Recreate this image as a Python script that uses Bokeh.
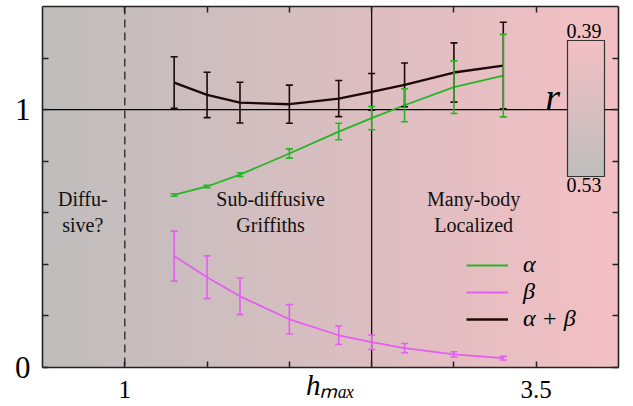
import numpy as np
from bokeh.plotting import figure
from bokeh.models import (LinearAxis, FixedTicker, Span, Whisker, TeeHead, ColumnDataSource,
                          LinearColorMapper, ColorBar, Label, Legend, LegendItem, Range1d)
from bokeh.embed import file_html
from bokeh.resources import INLINE

# ---- data ----
h = [1.3, 1.5, 1.7, 2.0, 2.3, 2.5, 2.7, 3.0, 3.3]
alpha = [0.669, 0.702, 0.748, 0.830, 0.915, 0.967, 1.017, 1.087, 1.132]
alpha_err = [0.005, 0.005, 0.007, 0.018, 0.032, 0.045, 0.064, 0.102, 0.160]
beta = [0.432, 0.350, 0.276, 0.187, 0.125, 0.098, 0.075, 0.051, 0.036]
beta_err = [0.097, 0.083, 0.071, 0.057, 0.036, 0.028, 0.018, 0.010, 0.007]
ab = [1.105, 1.057, 1.027, 1.021, 1.043, 1.069, 1.096, 1.144, 1.171]
ab_err = [0.100, 0.088, 0.079, 0.074, 0.070, 0.071, 0.085, 0.115, 0.168]

x_ticks = [1.0, 1.5, 2.0, 2.5, 3.0, 3.5]
x_tick_labels = {1.0: "1", 3.5: "3.5"}
y_ticks = [0.0, 0.2, 0.4, 0.6, 0.8, 1.0, 1.2]
y_tick_labels = {0.0: "0", 1.0: "1"}
r_range = [0.53, 0.39]          # r at left (ergodic) and right (localized)
h_transition = [1.0, 2.5]       # dashed and solid vertical lines

SERIF = "Liberation Serif"
GREEN = "#26b526"
MAGENTA = "#e45ef2"
DARK = "#1e0808"

p = figure(width=626, height=406, output_backend="svg", toolbar_location=None,
           x_range=Range1d(0.5, 4.0), y_range=Range1d(0, 1.4),
           min_border_left=42, min_border_right=8, min_border_top=6, min_border_bottom=39)
p.xaxis.visible = False
p.yaxis.visible = False
p.grid.visible = False
p.outline_line_color = None
p.background_fill_color = "white"

# ---- gradient background (r from 0.53 to 0.39) ----
def interp_palette(c0, c1, n):
    out = []
    for i in range(n):
        t = i / (n - 1)
        c = [round(a + (b - a) * t) for a, b in zip(c0, c1)]
        out.append("#%02x%02x%02x" % tuple(c))
    return out

PINK = (243, 191, 196)
GRAY = (191, 189, 189)
bg_palette = interp_palette(PINK, GRAY, 256)   # low r -> pink, high r -> gray
mapper = LinearColorMapper(palette=bg_palette, low=min(r_range), high=max(r_range))
r_img = np.linspace(r_range[0], r_range[1], 600).reshape(1, -1)
p.image(image=[r_img], x=0.5, y=0, dw=3.5, dh=1.4, color_mapper=mapper, level="image")

# ---- reference lines ----
p.add_layout(Span(location=1.0, dimension="width", line_color="black", line_width=1.2, level="underlay"))
p.add_layout(Span(location=h_transition[0], dimension="height", line_color="#403434",
                  line_width=1.5, line_dash="8 5", level="underlay"))
p.add_layout(Span(location=h_transition[1], dimension="height", line_color="black",
                  line_width=1.2, level="underlay"))

# ---- series ----
def series(y, err, color, lw):
    src = ColumnDataSource(dict(x=h, y=y,
                                lo=[a - e for a, e in zip(y, err)],
                                hi=[a + e for a, e in zip(y, err)]))
    r = p.line("x", "y", source=src, line_color=color, line_width=lw)
    p.add_layout(Whisker(source=src, base="x", lower="lo", upper="hi",
                         line_color=color, line_width=1.6,
                         lower_head=TeeHead(size=7, line_color=color, line_width=1.6),
                         upper_head=TeeHead(size=7, line_color=color, line_width=1.6),
                         level="glyph"))
    return r

r_beta = series(beta, beta_err, MAGENTA, 1.8)
r_ab = series(ab, ab_err, DARK, 2.3)
r_alpha = series(alpha, alpha_err, GREEN, 1.8)

# ---- axes on all four sides, ticks inside ----
def add_axis(side, ticks, labels, font_size, standoff):
    ax = LinearAxis(ticker=FixedTicker(ticks=ticks))
    ax.major_tick_in = 6
    ax.major_tick_out = 0
    ax.minor_tick_in = 0
    ax.minor_tick_out = 0
    ax.axis_line_color = "#222222"
    ax.axis_line_width = 1.6
    ax.major_tick_line_color = "#222222"
    ax.major_tick_line_width = 1.5
    ax.major_label_overrides = {t: (labels or {}).get(t, "") for t in ticks}
    ax.major_label_text_font = SERIF
    ax.major_label_text_color = "black"
    if labels is None:
        ax.major_label_text_font_size = "1px"
        ax.major_label_standoff = 0
    else:
        ax.major_label_text_font_size = font_size
        ax.major_label_standoff = standoff
    p.add_layout(ax, side)
    return ax

xax = add_axis("below", x_ticks, x_tick_labels, "25px", 13)
add_axis("left", y_ticks, y_tick_labels, "31px", 12)
add_axis("above", x_ticks, None, None, 0)
add_axis("right", y_ticks, None, None, 0)

# ---- x axis label h_max (same row as the tick labels) ----
xax.axis_label = "hₘₐₓ"
xax.axis_label_text_font = SERIF
xax.axis_label_text_font_style = "italic"
xax.axis_label_text_font_size = "29px"
xax.axis_label_text_color = "black"
xax.axis_label_standoff = -32

# ---- region labels ----
def region(x, lines):
    for yy, txt in zip([0.655, 0.551], lines):
        p.add_layout(Label(x=x, y=yy, text=txt, text_font=SERIF, text_font_size="20px",
                           text_align="center", text_baseline="alphabetic", text_color="#111111"))

region(0.745, ["Diffu-", "sive?"])
region(1.886, ["Sub-diffusive", "Griffiths"])
region(3.12, ["Many-body", "Localized"])

# ---- colour bar for r ----
cb_mapper = LinearColorMapper(palette=bg_palette[::-1], low=-max(r_range), high=-min(r_range))
cb = ColorBar(color_mapper=cb_mapper, location=(525, 191), width=37, height=136,
              padding=0, margin=0, ticker=FixedTicker(ticks=[]),
              major_label_text_font_size="0px", major_tick_line_color=None,
              bar_line_color="#333333", bar_line_width=1.2,
              background_fill_alpha=0, border_line_color=None)
p.add_layout(cb)
p.add_layout(Label(x=3.79, y=1.304, text="0.39", text_font=SERIF, text_font_size="20px",
                   text_align="center", text_baseline="alphabetic", text_color="black"))
p.add_layout(Label(x=3.79, y=0.706, text="0.53", text_font=SERIF, text_font_size="20px",
                   text_align="center", text_baseline="alphabetic", text_color="black"))
p.add_layout(Label(x=3.60, y=1.048, text="r", text_font=SERIF, text_font_style="italic",
                   text_font_size="38px", text_align="center", text_baseline="alphabetic",
                   text_color="black"))

# ---- legend ----
legend = Legend(items=[LegendItem(label="α", renderers=[r_alpha]),
                       LegendItem(label="β", renderers=[r_beta]),
                       LegendItem(label="α + β", renderers=[r_ab])],
                location=(424, 35), padding=0, margin=0, spacing=-3,
                glyph_width=42, glyph_height=20, label_height=20, label_standoff=15,
                label_text_font=SERIF, label_text_font_style="italic",
                label_text_font_size="24px", label_text_color="black",
                background_fill_alpha=0, border_line_color=None)
p.add_layout(legend)

open("out.html", "w").write(file_html(p, INLINE))
